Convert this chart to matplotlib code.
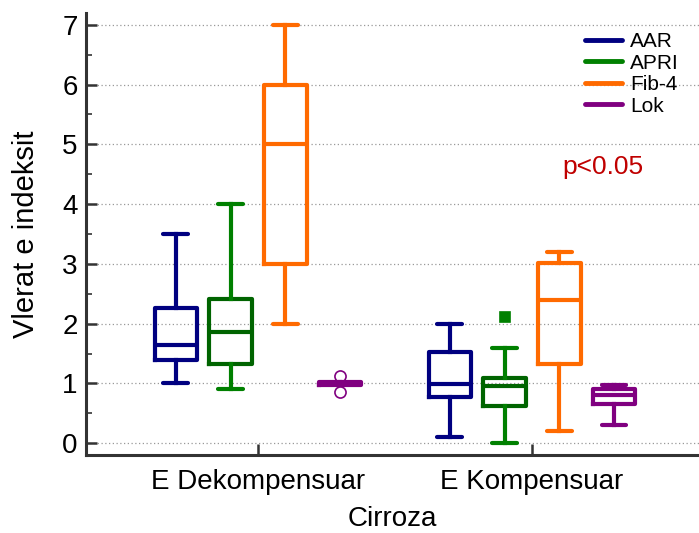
import matplotlib
matplotlib.use("Agg")
import matplotlib.pyplot as plt

plt.rcParams['font.family'] = ['Liberation Sans', 'DejaVu Sans']

groups = ["E Dekompensuar", "E Kompensuar"]
indices = ["AAR", "APRI", "Fib-4", "Lok"]

# five-number summaries per group: [whisker low, Q1, median, Q3, whisker high]
aar = [[1.0, 1.39, 1.64, 2.26, 3.5], [0.1, 0.78, 0.99, 1.52, 2.0]]
apri = [[0.9, 1.32, 1.86, 2.41, 4.0], [0.0, 0.62, 0.95, 1.09, 1.6]]
fib4 = [[2.0, 3.0, 5.0, 6.0, 7.0], [0.2, 1.33, 2.4, 3.01, 3.2]]
lok = [[1.0, 0.98, 1.0, 1.02, 1.0], [0.3, 0.66, 0.8, 0.9, 0.98]]
fliers = {
    "AAR": [[], []],
    "APRI": [[], [2.11]],
    "Fib-4": [[], []],
    "Lok": [[1.12, 0.85], []],
}

summaries = {"AAR": aar, "APRI": apri, "Fib-4": fib4, "Lok": lok}
box_colors = {"AAR": "#000080", "APRI": "#006400", "Fib-4": "#FF6A00", "Lok": "#800080"}
whisk_colors = {"AAR": "#000080", "APRI": "#008000", "Fib-4": "#FF6A00", "Lok": "#800080"}
flier_style = {"AAR": ("o", "none"), "APRI": ("s", "fill"), "Fib-4": ("o", "none"), "Lok": ("o", "none")}

fig = plt.figure(figsize=(6.99, 5.33), dpi=100)
ax = fig.add_axes([0.123, 0.146, 0.877, 0.83])

offsets = [-0.3, -0.1, 0.1, 0.3]
lw = 3.0
for k, name in enumerate(indices):
    stats = []
    positions = []
    for g in range(len(groups)):
        lo, q1, med, q3, hi = summaries[name][g]
        stats.append(dict(whislo=lo, q1=q1, med=med, q3=q3, whishi=hi,
                          fliers=fliers[name][g]))
        positions.append(g + offsets[k])
    marker, fill = flier_style[name]
    mfc = whisk_colors[name] if fill == "fill" else "none"
    ax.bxp(stats, positions=positions, widths=0.155, showfliers=True,
           boxprops=dict(color=box_colors[name], linewidth=lw, solid_joinstyle="round"),
           medianprops=dict(color=box_colors[name], linewidth=lw),
           whiskerprops=dict(color=whisk_colors[name], linewidth=lw),
           capprops=dict(color=whisk_colors[name], linewidth=lw, solid_capstyle="round"),
           capwidths=0.09,
           flierprops=dict(marker=marker, markerfacecolor=mfc,
                           markeredgecolor=whisk_colors[name],
                           markersize=7 if marker == "s" else 8,
                           markeredgewidth=1.2, linestyle="none"))
    ax.plot([], [], color=whisk_colors[name], linewidth=3.5,
            solid_capstyle="round", label=name)

ax.set_xlim(-0.628, 1.61)
ax.set_ylim(-0.2, 7.2)
ax.set_xticks(range(len(groups)))
ax.set_xticklabels(groups)
ax.set_yticks(range(0, 8))
ax.set_yticks([y + 0.5 for y in range(0, 7)], minor=True)

ax.yaxis.grid(True, linestyle=(0, (1, 2)), color="#999999", linewidth=0.9)
ax.set_axisbelow(True)

for side in ["top", "right"]:
    ax.spines[side].set_visible(False)
for side in ["left", "bottom"]:
    ax.spines[side].set_color("#333333")
    ax.spines[side].set_linewidth(2.2)

ax.tick_params(axis="y", which="major", direction="in", length=8, width=1.8,
               color="#333333", labelsize=20, pad=6)
ax.tick_params(axis="y", which="minor", direction="in", length=4, width=1.2,
               color="#333333")
ax.tick_params(axis="x", which="major", direction="in", length=8, width=1.8,
               color="#333333", labelsize=20, pad=10)

ax.set_ylabel("Vlerat e indeksit", fontsize=21, labelpad=16)
ax.set_xlabel("Cirroza", fontsize=20, labelpad=8)

ax.text(0.843, 0.652, "p<0.05", transform=ax.transAxes, color="#C00000",
        fontsize=19, va="center", ha="center")

leg = ax.legend(loc="upper left", bbox_to_anchor=(0.801, 0.975), frameon=False,
                fontsize=15, handlelength=1.75, handletextpad=0.4,
                labelspacing=0.12, borderaxespad=0.0)

fig.savefig("out.png", dpi=100)
